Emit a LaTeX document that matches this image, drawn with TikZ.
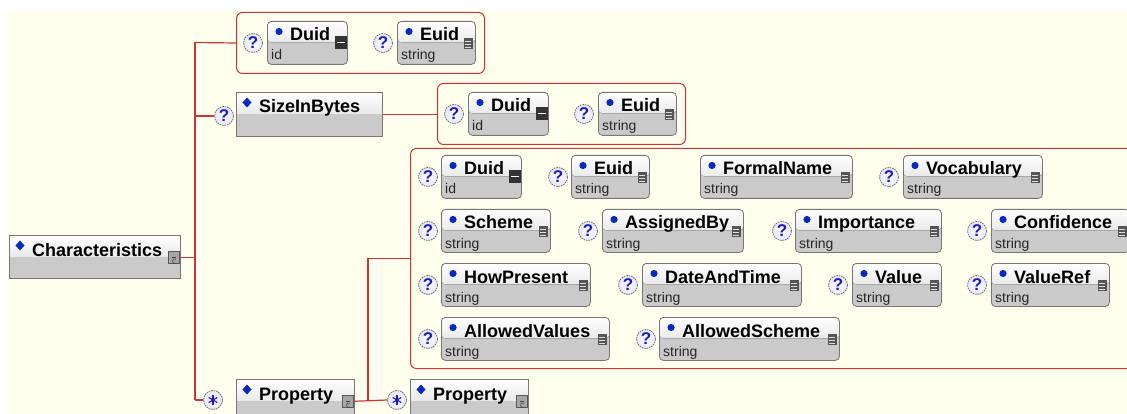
\documentclass[tikz,border=0pt]{standalone}
\usepackage{fontspec}
\setmainfont{Liberation Sans}
\definecolor{bgcream}{RGB}{255,255,238}
\definecolor{linkred}{RGB}{204,51,51}
\definecolor{elborder}{RGB}{118,118,118}
\definecolor{elhead}{RGB}{234,234,234}
\definecolor{elgray}{RGB}{202,202,202}
\definecolor{dotblue}{RGB}{12,40,190}
\definecolor{qblue}{RGB}{25,25,200}
\definecolor{icondark}{RGB}{85,85,85}
\tikzset{
  conn/.style={draw=linkred, line width=1.2pt},
  grp/.style={draw=linkred, line width=1pt, rounded corners=6pt, anchor=north west, inner sep=0pt},
  elbox/.style={draw=elborder, line width=0.8pt, rounded corners=4pt, anchor=north west,
    inner sep=0pt, minimum height=43pt,
    path picture={
      \fill[elgray] (path picture bounding box.south west) rectangle (path picture bounding box.north east);
      \fill[top color=white, bottom color=elhead] (path picture bounding box.north west)
        rectangle ([yshift=-21pt]path picture bounding box.north east);}},
  cxbox/.style={elbox, rounded corners=0pt},
  ttl/.style={font=\bfseries\fontsize{18}{18}\selectfont, anchor=base west, inner sep=0pt},
  typ/.style={font=\fontsize{14}{14}\selectfont, text=black!85, anchor=base west, inner sep=0pt},
  opt/.style={circle, draw=black!55, dash pattern=on 1.6pt off 0.9pt, line width=0.8pt, inner color=white,
    outer color=blue!10, minimum size=19pt, inner sep=0pt, text=qblue,
    font=\bfseries\fontsize{17}{17}\selectfont},
  cxico/.style={rectangle, draw=black!65, fill=black!35, line width=0.6pt,
    minimum width=11pt, minimum height=12pt, inner sep=0pt}
}
% icon of a string-typed element
\newcommand\stricon[1]{%
  \fill[icondark] ([shift={(-12pt,-17pt)}]#1.north east) rectangle ([shift={(-3pt,-28pt)}]#1.north east);
  \foreach \k in {20,23,26}{%
    \draw[white!75!gray, line width=0.8pt] ([shift={(-10.5pt,-\k pt)}]#1.north east) -- ([shift={(-4.5pt,-\k pt)}]#1.north east);}
}
% icon of an id-typed element
\newcommand\idicon[1]{%
  \fill[black!80] ([shift={(-13pt,-15pt)}]#1.north east) rectangle ([shift={(-1pt,-28pt)}]#1.north east);
  \draw[white, line width=1.4pt] ([shift={(-11pt,-21.5pt)}]#1.north east) -- ([shift={(-3pt,-21.5pt)}]#1.north east);
}
% simple element: name, x, y, width, title, type, icon
\newcommand\sel[7]{%
  \node[elbox, minimum width=#4pt] (#1) at (#2,#3) {};
  \fill[dotblue] ([shift={(12pt,-10.5pt)}]#1.north west) circle (3.6pt);
  \node[ttl] (#1-n) at ([shift={(23pt,-20pt)}]#1.north west) {#5};
  \node[typ] (#1-t) at ([shift={(4pt,-39pt)}]#1.north west) {#6};
  #7{#1}
}
% complex element: name, x, y, width, height, title
\newcommand\cel[6]{%
  \node[cxbox, minimum width=#4pt, minimum height=#5pt] (#1) at (#2,#3) {};
  \fill[dotblue] ([shift={(11pt,-5.5pt)}]#1.north west) -- ++(4.5pt,-5pt) -- ++(-4.5pt,-5pt) -- ++(-4.5pt,5pt) -- cycle;
  \node[ttl] (#1-n) at ([shift={(23pt,-21pt)}]#1.north west) {#6};
}
% expand icon on a complex element
\newcommand\cxicon[1]{%
  \node[cxico, anchor=north east] (#1-i) at ([shift={(-1pt,-16pt)}]#1.north east) {};
  \draw[black!75, line width=0.6pt] ([shift={(2pt,-2pt)}]#1-i.center) arc[start angle=60, end angle=300, radius=2.3pt];
  \draw[black!75, line width=0.6pt] ([shift={(-2.5pt,0pt)}]#1-i.center) -- ([shift={(1.5pt,0pt)}]#1-i.center);
}
\newcommand\optq[3]{\node[opt] (#1) at (#2,#3) {?};}
\newcommand\optmany[3]{%
  \node[opt] (#1) at (#2,#3) {};
  \foreach \a in {90,30,150}{%
    \draw[qblue, line width=1.1pt] ([shift={(\a:5pt)}]#1.center) -- ([shift={(\a+180:5pt)}]#1.center);}
}
\begin{document}
\begin{tikzpicture}[x=1pt, y=-1pt]
\useasboundingbox (0,0) rectangle (1127,414);
\fill[white] (0,0) rectangle (1127,414);
\fill[bgcream] (8,10) rectangle (1127,414);

% groups of child elements
\node[grp, minimum width=248pt, minimum height=61pt] (grpA) at (236,12) {};
\node[grp, minimum width=248pt, minimum height=61pt] (grpB) at (437,83) {};
\node[grp, minimum width=745pt, minimum height=220pt] (grpC) at (410,148) {};

% root and complex elements
\cel{char}{9}{235}{171}{43}{Characteristics}
\cxicon{char}
\cel{size}{236}{92}{146}{44}{SizeInBytes}
\cel{propA}{236}{379}{118}{43}{Property}
\cxicon{propA}
\cel{propB}{410}{379}{118}{43}{Property}
\cxicon{propB}

\optq{qS}{224}{116}
\optmany{qPA}{213}{400}
\optmany{qPB}{397}{400}

% first Duid/Euid pair
\optq{qA1}{253}{43}
\sel{duidA}{267}{21}{80}{Duid}{id}{\idicon}
\optq{qA2}{383}{43}
\sel{euidA}{397}{21}{78}{Euid}{string}{\stricon}

% second Duid/Euid pair
\optq{qB1}{454}{114}
\sel{duidB}{468}{92}{80}{Duid}{id}{\idicon}
\optq{qB2}{584}{114}
\sel{euidB}{598}{92}{78}{Euid}{string}{\stricon}

% property children, row 1
\optq{qC1}{428}{177}
\sel{duidC}{441}{155}{80}{Duid}{id}{\idicon}
\optq{qC2}{558}{177}
\sel{euidC}{571}{155}{78}{Euid}{string}{\stricon}
\sel{formal}{700}{155}{152}{FormalName}{string}{\stricon}
\optq{qC4}{889}{177}
\sel{vocab}{903}{155}{139}{Vocabulary}{string}{\stricon}

% row 2
\optq{qD1}{428}{231}
\sel{scheme}{441}{209}{109}{Scheme}{string}{\stricon}
\optq{qD2}{588}{231}
\sel{assigned}{602}{209}{141}{AssignedBy}{string}{\stricon}
\optq{qD3}{782}{231}
\sel{import}{795}{209}{146}{Importance}{string}{\stricon}
\optq{qD4}{977}{231}
\sel{confid}{991}{209}{138}{Confidence}{string}{\stricon}

% row 3
\optq{qE1}{428}{285}
\sel{howpres}{441}{263}{149}{HowPresent}{string}{\stricon}
\optq{qE2}{628}{285}
\sel{datetime}{642}{263}{159}{DateAndTime}{string}{\stricon}
\optq{qE3}{838}{285}
\sel{value}{852}{263}{89}{Value}{string}{\stricon}
\optq{qE4}{977}{285}
\sel{valref}{991}{263}{118}{ValueRef}{string}{\stricon}

% row 4
\optq{qF1}{428}{339}
\sel{allowval}{441}{317}{168}{AllowedValues}{string}{\stricon}
\optq{qF2}{646}{339}
\sel{allowsch}{659}{317}{180}{AllowedScheme}{string}{\stricon}

% connectors
\coordinate (spT) at (195,42.5);
\coordinate (spS) at (195,116);
\coordinate (spM) at (195,257);
\coordinate (spB) at (195,400);
\coordinate (jP) at (368,401);
\draw[conn] (spT) -- (spB);
\draw[conn] (spT) -- (grpA.west);
\draw[conn] (spS) -- (qS.west);
\draw[conn] (char-i.east) -- (char-i.east -| spM);
\draw[conn] (spB) -- (qPA.west);
\draw[conn] (size.east) -- (size.east -| grpB.west);
\draw[conn] (propA-i.east) -- (qPB.west);
\draw[conn] (jP) |- (grpC.west);
\end{tikzpicture}
\end{document}
